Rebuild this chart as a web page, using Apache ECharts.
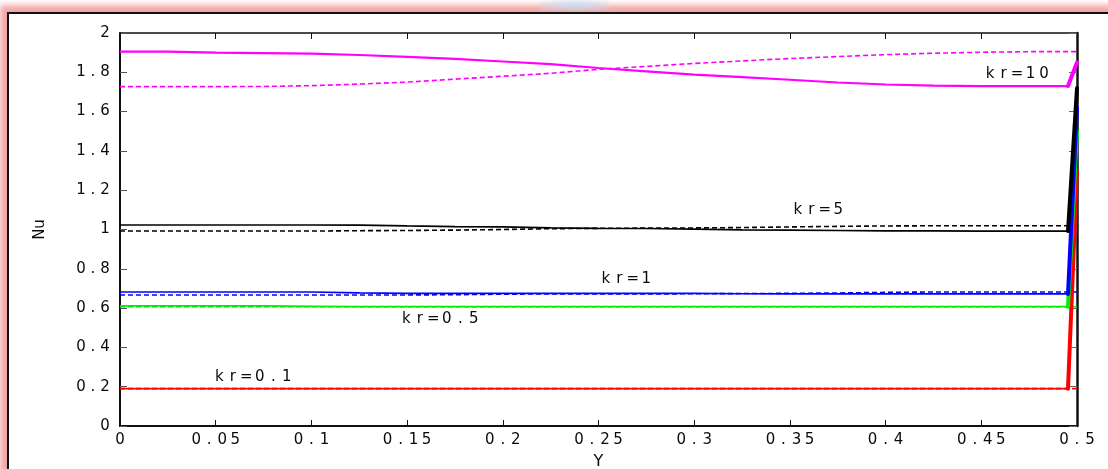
<!DOCTYPE html>
<html>
<head>
<meta charset="utf-8">
<script src="https://cdn.jsdelivr.net/npm/echarts@6/dist/echarts.min.js"></script>
<style>
  html, body { margin: 0; padding: 0; width: 1108px; height: 469px; overflow: hidden; background: #fff; }
  #frame {
    position: absolute; left: 7px; top: 12px; width: 1200px; height: 600px;
    background: #fff; border-left: 2px solid #111; border-top: 2px solid #111;
    box-shadow: 0 0 6px 7px rgba(240, 150, 150, 0.85);
  }
  #glow {
    position: absolute; left: 540px; top: 0; width: 70px; height: 11px;
    background: radial-gradient(ellipse at center, rgba(200, 220, 240, 0.95), rgba(200, 220, 240, 0));
  }
  #chart { position: absolute; left: 0; top: 0; width: 1108px; height: 469px; }
</style>
</head>
<body>
<div id="frame"></div>
<div id="glow"></div>
<div id="chart"></div>
<script>
// Y positions along the channel, last two points are the wall jump
const yPos = [0, 0.025, 0.05, 0.075, 0.1, 0.125, 0.15, 0.175, 0.2, 0.225, 0.25,
  0.275, 0.3, 0.325, 0.35, 0.375, 0.4, 0.425, 0.45, 0.475, 0.4953, 0.5]

const curveLabels = ['kr=0.1', 'kr=0.5', 'kr=1', 'kr=5', 'kr=10']
const xTicks = ['0', '0.05', '0.1', '0.15', '0.2', '0.25', '0.3', '0.35', '0.4', '0.45', '0.5']
const yTicks = ['0', '0.2', '0.4', '0.6', '0.8', '1', '1.2', '1.4', '1.6', '1.8', '2']

// solid curves
const nuSolid01 = [0.19, 0.19, 0.19, 0.19, 0.19, 0.19, 0.19, 0.19, 0.19, 0.19, 0.19,
  0.19, 0.19, 0.19, 0.19, 0.19, 0.19, 0.19, 0.19, 0.19, 0.19, 1.3]
const nuSolid05 = [0.611, 0.611, 0.611, 0.611, 0.609, 0.607, 0.607, 0.607, 0.607, 0.607, 0.607,
  0.607, 0.607, 0.607, 0.607, 0.607, 0.607, 0.607, 0.607, 0.607, 0.607, 1.5]
const nuSolid1 = [0.682, 0.682, 0.682, 0.682, 0.682, 0.677, 0.675, 0.675, 0.675, 0.675, 0.675,
  0.675, 0.675, 0.673, 0.672, 0.672, 0.672, 0.672, 0.672, 0.672, 0.672, 1.62]
const nuSolid5 = [1.023, 1.023, 1.023, 1.023, 1.023, 1.022, 1.018, 1.015, 1.013, 1.008, 1.006,
  1.005, 1.002, 0.998, 0.997, 0.995, 0.993, 0.993, 0.992, 0.992, 0.992, 1.72]
const nuSolid10 = [1.905, 1.905, 1.9, 1.898, 1.895, 1.888, 1.878, 1.868, 1.855, 1.842, 1.822,
  1.805, 1.788, 1.775, 1.762, 1.748, 1.738, 1.732, 1.73, 1.73, 1.73, 1.85]

// dashed curves
const nuDash01 = [0.19, 0.19, 0.19, 0.19, 0.19, 0.19, 0.19, 0.19, 0.19, 0.19, 0.19,
  0.19, 0.19, 0.19, 0.19, 0.19, 0.19, 0.19, 0.19, 0.19, 0.19, 0.19]
const nuDash05 = [0.607, 0.607, 0.607, 0.607, 0.607, 0.607, 0.607, 0.607, 0.607, 0.607, 0.607,
  0.607, 0.607, 0.607, 0.607, 0.607, 0.607, 0.607, 0.607, 0.607, 0.607, 0.607]
const nuDash1 = [0.667, 0.667, 0.667, 0.667, 0.667, 0.667, 0.667, 0.668, 0.671, 0.672, 0.672,
  0.672, 0.673, 0.674, 0.675, 0.677, 0.68, 0.682, 0.682, 0.682, 0.682, 0.682]
const nuDash5 = [0.992, 0.992, 0.992, 0.992, 0.992, 0.994, 0.995, 0.997, 1.0, 1.004, 1.006,
  1.007, 1.008, 1.01, 1.013, 1.016, 1.018, 1.019, 1.019, 1.019, 1.019, 1.019]
const nuDash10 = [1.727, 1.727, 1.727, 1.728, 1.732, 1.74, 1.75, 1.765, 1.78, 1.795, 1.815,
  1.83, 1.845, 1.858, 1.87, 1.88, 1.89, 1.897, 1.902, 1.905, 1.905, 1.905]

const colors = ['#ff0000', '#00ee00', '#0000ff', '#000000', '#ff00ff']
const solids = [nuSolid01, nuSolid05, nuSolid1, nuSolid5, nuSolid10]
const dashes = [nuDash01, nuDash05, nuDash1, nuDash5, nuDash10]
// where each kr label sits, in data units
const labelAt = [[0.0695, 0.25], [0.1672, 0.545], [0.2644, 0.748], [0.3647, 1.099], [0.4687, 1.791]]

const FONT = 'DejaVu Sans'
const INK = '#0a0a0a'

function spread(text, key) {
  return String(text).split('').map((c) => '{' + key + '|' + c + '}').join('')
}

function pairs(values) {
  return values.map((v, i) => [yPos[i], v])
}

const series = []
dashes.forEach((vals, i) => {
  series.push({
    type: 'line', xAxisIndex: 0, yAxisIndex: 0, showSymbol: false, symbol: 'none',
    data: pairs(vals),
    lineStyle: { color: colors[i], width: 1.6, type: [5, 3] },
    z: 2
  })
})
solids.forEach((vals, i) => {
  series.push({
    type: 'line', xAxisIndex: 0, yAxisIndex: 0, showSymbol: false, symbol: 'none',
    data: pairs(vals).slice(0, -1),
    lineStyle: { color: colors[i], width: i === 4 ? 2.2 : 1.7 },
    z: 3,
    markPoint: {
      symbol: 'circle', symbolSize: 0, silent: true,
      data: [{
        coord: labelAt[i],
        label: {
          show: true, position: 'inside',
          formatter: spread(curveLabels[i], 'k'),
          rich: { k: { width: 13.5, align: 'center', fontFamily: FONT, fontSize: 15, color: INK } }
        }
      }]
    }
  })
})
// the jump at the wall is drawn thicker
solids.forEach((vals, i) => {
  series.push({
    type: 'line', xAxisIndex: 0, yAxisIndex: 0, showSymbol: false, symbol: 'none',
    data: pairs(vals).slice(-2),
    lineStyle: { color: colors[i], width: 4, cap: 'round' },
    z: 4
  })
})

const chart = echarts.init(document.getElementById('chart'), null, { renderer: 'canvas' })

const baseX = { type: 'value', min: 0, max: 0.5, interval: 0.05, splitLine: { show: false } }
const baseY = { type: 'value', min: 0, max: 2, interval: 0.2, splitLine: { show: false } }

chart.setOption({
  animation: false,
  backgroundColor: 'transparent',
  grid: { left: 120, top: 33, right: 31, bottom: 43, containLabel: false, outerBoundsMode: 'none' },
  xAxis: [
    {
      ...baseX, position: 'bottom',
      name: 'Y', nameLocation: 'middle', nameGap: 28,
      nameTextStyle: { fontFamily: FONT, fontSize: 16, color: INK },
      axisLine: { show: true, onZero: false, lineStyle: { color: '#111', width: 2 } },
      axisTick: { show: true, inside: true, length: 6, lineStyle: { color: '#111' } },
      axisLabel: {
        show: true, margin: 7, showMinLabel: true, showMaxLabel: true,
        formatter: (v) => spread(xTicks[Math.round(v / 0.05)], 'x'),
        rich: { x: { width: 13, align: 'center', fontFamily: FONT, fontSize: 15, color: INK } }
      }
    },
    {
      ...baseX, position: 'top',
      axisLine: { show: true, onZero: false, lineStyle: { color: '#111', width: 1.5 } },
      axisTick: { show: true, inside: true, length: 6, lineStyle: { color: '#111' } },
      axisLabel: { show: false }
    }
  ],
  yAxis: [
    {
      ...baseY, position: 'left',
      name: 'Nu', nameLocation: 'middle', nameGap: 72,
      nameTextStyle: { fontFamily: FONT, fontSize: 15, color: INK },
      axisLine: { show: true, onZero: false, lineStyle: { color: '#111', width: 2 } },
      axisTick: { show: true, inside: true, length: 7, lineStyle: { color: '#555' } },
      axisLabel: {
        show: true, margin: 9, showMinLabel: true, showMaxLabel: true,
        formatter: (v) => spread(yTicks[Math.round(v / 0.2)], 'y'),
        rich: { y: { width: 12, align: 'center', fontFamily: FONT, fontSize: 15, color: INK } }
      }
    },
    {
      ...baseY, position: 'right',
      axisLine: { show: true, onZero: false, lineStyle: { color: '#111', width: 2.5 } },
      axisTick: { show: true, inside: true, length: 8, lineStyle: { color: '#666' } },
      axisLabel: { show: false }
    }
  ],
  series: series
})
</script>
</body>
</html>
